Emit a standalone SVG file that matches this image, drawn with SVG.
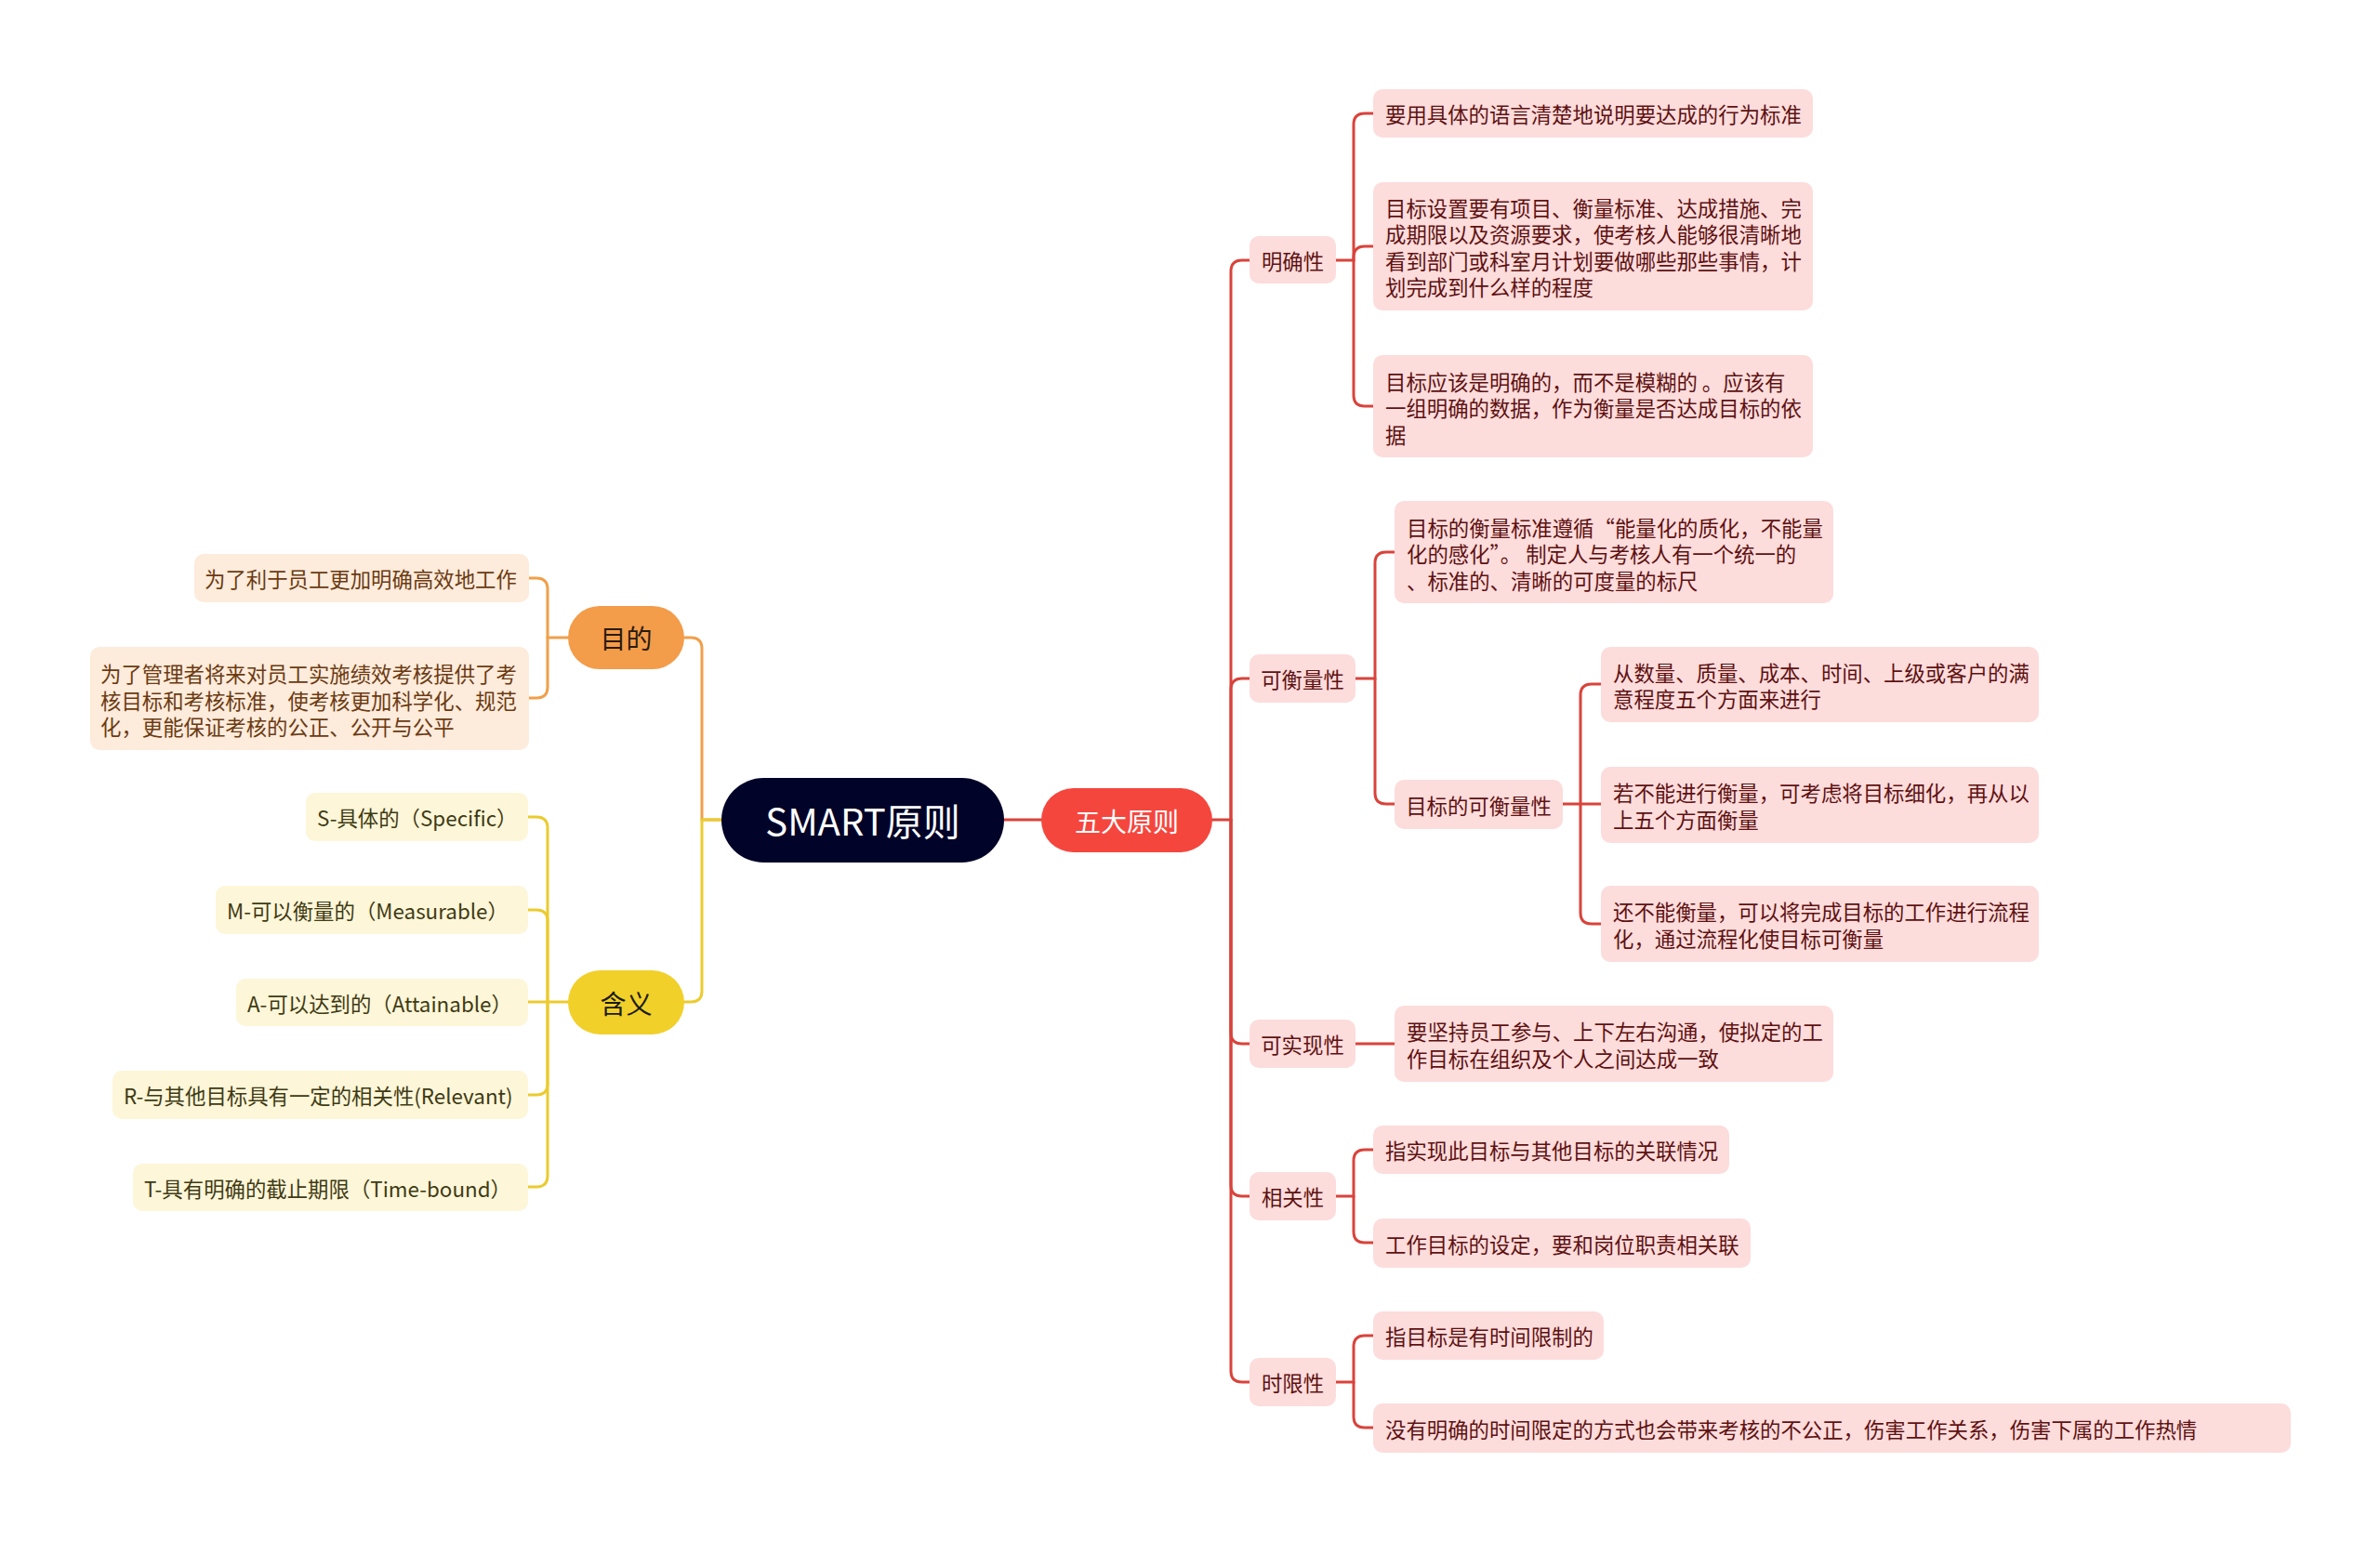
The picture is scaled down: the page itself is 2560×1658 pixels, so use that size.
<svg xmlns="http://www.w3.org/2000/svg" width="2560" height="1658" viewBox="0 0 2560 1658">
<style>
text{font-family:"Noto Sans CJK SC","Noto Sans",sans-serif;dominant-baseline:central}
.t{font-size:22.4px}
.c{text-anchor:middle}
.pk{fill:#FDDCDC}
.pt{fill:#5E1111}
.pe{fill:#FDEBDB}
.pet{fill:#6B3A12}
.ye{fill:#FDF6D8}
.yet{fill:#3F3A14}
.lr{fill:none;stroke:#D9433B;stroke-width:3;stroke-linecap:round}
.lo{fill:none;stroke:#F0A04B;stroke-width:3;stroke-linecap:round}
.ly{fill:none;stroke:#EBCB2E;stroke-width:3;stroke-linecap:round}
</style>
<rect width="2560" height="1658" fill="#FFFFFF"/>
<g id="connectors">
<path class="lo" d="M776,882 H755 V698 Q755,686 743,686 H736"/>
<path class="lo" d="M611,686 H589 V634 Q589,622 577,622 H569"/>
<path class="lo" d="M589,686 V739 Q589,751 577,751 H569"/>
<path class="ly" d="M776,882 H755 V1066 Q755,1078 743,1078 H736"/>
<path class="ly" d="M611,1078 H568"/>
<path class="ly" d="M589,1078 V891 Q589,879 577,879 H568"/>
<path class="ly" d="M589,1078 V991 Q589,979 577,979 H568"/>
<path class="ly" d="M589,1078 V1166 Q589,1178 577,1178 H568"/>
<path class="ly" d="M589,1078 V1265 Q589,1277 577,1277 H568"/>
<path class="lr" d="M1080,882 H1120"/>
<path class="lr" d="M1304,882 H1324 V292 Q1324,280 1336,280 H1344"/>
<path class="lr" d="M1324,882 V742 Q1324,730 1336,730 H1344"/>
<path class="lr" d="M1324,882 V1111 Q1324,1123 1336,1123 H1344"/>
<path class="lr" d="M1324,882 V1275 Q1324,1287 1336,1287 H1344"/>
<path class="lr" d="M1324,882 V1475 Q1324,1487 1336,1487 H1344"/>
<path class="lr" d="M1437,280 H1456 V134 Q1456,122 1468,122 H1477"/>
<path class="lr" d="M1456,280 V277 Q1456,265 1468,265 H1477"/>
<path class="lr" d="M1456,280 V425 Q1456,437 1468,437 H1477"/>
<path class="lr" d="M1458,730 H1479 V606 Q1479,594 1491,594 H1500"/>
<path class="lr" d="M1479,730 V853 Q1479,865 1491,865 H1500"/>
<path class="lr" d="M1681,865 H1722"/>
<path class="lr" d="M1700,865 V748 Q1700,736 1712,736 H1722"/>
<path class="lr" d="M1700,865 V982 Q1700,994 1712,994 H1722"/>
<path class="lr" d="M1458,1123 H1500"/>
<path class="lr" d="M1437,1287 H1456 V1249 Q1456,1237 1468,1237 H1477"/>
<path class="lr" d="M1456,1287 V1325 Q1456,1337 1468,1337 H1477"/>
<path class="lr" d="M1437,1487 H1456 V1449 Q1456,1437 1468,1437 H1477"/>
<path class="lr" d="M1456,1487 V1524 Q1456,1536 1468,1536 H1477"/>
</g>
<g id="root">
<rect x="776" y="837" width="304" height="91" rx="45.5" fill="#010328"/>
<text x="928" y="882" class="c" font-size="40" fill="#FFFFFF">SMART原则</text>
</g>
<g id="n-mudi">
<rect x="611" y="652" width="125" height="68" rx="34" fill="#F39C4A"/>
<text x="673.5" y="686" class="c" font-size="28" fill="#2A1A0A">目的</text>
</g>
<g id="n-mudi-1">
<rect x="209" y="596" width="360" height="52" rx="10" class="pe"/>
<text x="220" y="622" class="t pet">为了利于员工更加明确高效地工作</text>
</g>
<g id="n-mudi-2">
<rect x="97" y="696" width="472" height="111" rx="10" class="pe"/>
<text x="108" y="724" class="t pet">为了管理者将来对员工实施绩效考核提供了考</text>
<text x="108" y="752.5" class="t pet">核目标和考核标准，使考核更加科学化、规范</text>
<text x="108" y="781" class="t pet">化，更能保证考核的公正、公开与公平</text>
</g>
<g id="n-hanyi">
<rect x="611" y="1044" width="125" height="69" rx="34.5" fill="#F1D02A"/>
<text x="673.5" y="1078.5" class="c" font-size="28" fill="#1A1A10">含义</text>
</g>
<g id="n-s">
<rect x="329" y="853" width="239" height="52" rx="10" class="ye"/>
<text x="341" y="879" class="t yet">S-具体的（Specific）</text>
</g>
<g id="n-m">
<rect x="232" y="953" width="336" height="52" rx="10" class="ye"/>
<text x="244" y="979" class="t yet">M-可以衡量的（Measurable）</text>
</g>
<g id="n-a">
<rect x="254" y="1053" width="314" height="51" rx="10" class="ye"/>
<text x="266" y="1078.5" class="t yet">A-可以达到的（Attainable）</text>
</g>
<g id="n-r">
<rect x="121" y="1152" width="447" height="52" rx="10" class="ye"/>
<text x="133" y="1178" class="t yet">R-与其他目标具有一定的相关性(Relevant)</text>
</g>
<g id="n-t">
<rect x="143" y="1252" width="425" height="51" rx="10" class="ye"/>
<text x="155" y="1277.5" class="t yet">T-具有明确的截止期限（Time-bound）</text>
</g>
<g id="n-wuda">
<rect x="1120" y="848" width="184" height="69" rx="34.5" fill="#F5463E"/>
<text x="1212" y="882.5" class="c" font-size="28" fill="#FFFFFF">五大原则</text>
</g>
<g id="n-mqx">
<rect x="1344" y="254" width="93" height="51" rx="10" class="pk"/>
<text x="1390.5" y="279.5" class="t c pt">明确性</text>
</g>
<g id="n-mqx-1">
<rect x="1477" y="96" width="473" height="52" rx="10" class="pk"/>
<text x="1490" y="122" class="t pt">要用具体的语言清楚地说明要达成的行为标准</text>
</g>
<g id="n-mqx-2">
<rect x="1477" y="196" width="473" height="138" rx="10" class="pk"/>
<text x="1490" y="222.5" class="t pt">目标设置要有项目、衡量标准、达成措施、完</text>
<text x="1490" y="251" class="t pt">成期限以及资源要求，使考核人能够很清晰地</text>
<text x="1490" y="279.5" class="t pt">看到部门或科室月计划要做哪些那些事情，计</text>
<text x="1490" y="308" class="t pt">划完成到什么样的程度</text>
</g>
<g id="n-mqx-3">
<rect x="1477" y="382" width="473" height="110" rx="10" class="pk"/>
<text x="1490" y="409.5" class="t pt">目标应该是明确的，而不是模糊的 。应该有</text>
<text x="1490" y="438" class="t pt">一组明确的数据，作为衡量是否达成目标的依</text>
<text x="1490" y="466.5" class="t pt">据</text>
</g>
<g id="n-khl">
<rect x="1344" y="704" width="114" height="52" rx="10" class="pk"/>
<text x="1401" y="730" class="t c pt">可衡量性</text>
</g>
<g id="n-khl-1">
<rect x="1500" y="539" width="472" height="110" rx="10" class="pk"/>
<text x="1513" y="566.5" class="t pt">目标的衡量标准遵循“能量化的质化，不能量</text>
<text x="1513" y="595" class="t pt">化的感化”。 制定人与考核人有一个统一的</text>
<text x="1513" y="623.5" class="t pt">、标准的、清晰的可度量的标尺</text>
</g>
<g id="n-khl-2">
<rect x="1500" y="839" width="181" height="53" rx="10" class="pk"/>
<text x="1590.5" y="865.5" class="t c pt">目标的可衡量性</text>
</g>
<g id="n-khl-2-1">
<rect x="1722" y="696" width="471" height="81" rx="10" class="pk"/>
<text x="1735" y="722.5" class="t pt">从数量、质量、成本、时间、上级或客户的满</text>
<text x="1735" y="751" class="t pt">意程度五个方面来进行</text>
</g>
<g id="n-khl-2-2">
<rect x="1722" y="825" width="471" height="82" rx="10" class="pk"/>
<text x="1735" y="852" class="t pt">若不能进行衡量，可考虑将目标细化，再从以</text>
<text x="1735" y="880.5" class="t pt">上五个方面衡量</text>
</g>
<g id="n-khl-2-3">
<rect x="1722" y="953" width="471" height="82" rx="10" class="pk"/>
<text x="1735" y="980" class="t pt">还不能衡量，可以将完成目标的工作进行流程</text>
<text x="1735" y="1008.5" class="t pt">化，通过流程化使目标可衡量</text>
</g>
<g id="n-ksx">
<rect x="1344" y="1097" width="114" height="52" rx="10" class="pk"/>
<text x="1401" y="1123" class="t c pt">可实现性</text>
</g>
<g id="n-ksx-1">
<rect x="1500" y="1082" width="472" height="82" rx="10" class="pk"/>
<text x="1513" y="1109" class="t pt">要坚持员工参与、上下左右沟通，使拟定的工</text>
<text x="1513" y="1137.5" class="t pt">作目标在组织及个人之间达成一致</text>
</g>
<g id="n-xgx">
<rect x="1344" y="1261" width="93" height="52" rx="10" class="pk"/>
<text x="1390.5" y="1287" class="t c pt">相关性</text>
</g>
<g id="n-xgx-1">
<rect x="1477" y="1211" width="383" height="52" rx="10" class="pk"/>
<text x="1490" y="1237" class="t pt">指实现此目标与其他目标的关联情况</text>
</g>
<g id="n-xgx-2">
<rect x="1477" y="1311" width="406" height="53" rx="10" class="pk"/>
<text x="1490" y="1337.5" class="t pt">工作目标的设定，要和岗位职责相关联</text>
</g>
<g id="n-sxx">
<rect x="1344" y="1461" width="93" height="52" rx="10" class="pk"/>
<text x="1390.5" y="1487" class="t c pt">时限性</text>
</g>
<g id="n-sxx-1">
<rect x="1477" y="1411" width="248" height="52" rx="10" class="pk"/>
<text x="1490" y="1437" class="t pt">指目标是有时间限制的</text>
</g>
<g id="n-sxx-2">
<rect x="1477" y="1510" width="987" height="53" rx="10" class="pk"/>
<text x="1490" y="1536.5" class="t pt">没有明确的时间限定的方式也会带来考核的不公正，伤害工作关系，伤害下属的工作热情</text>
</g>
</svg>
